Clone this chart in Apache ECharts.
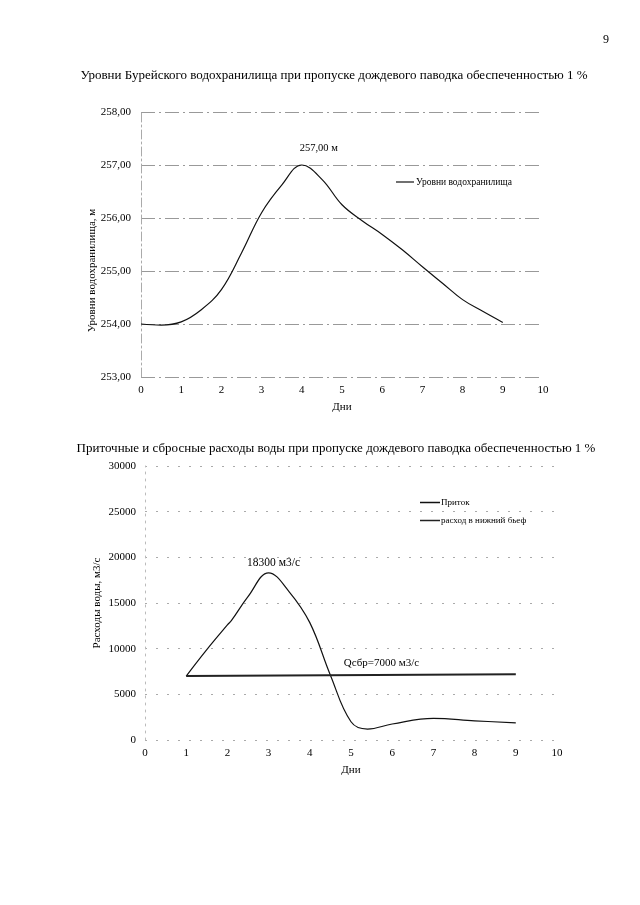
<!DOCTYPE html>
<html>
<head>
<meta charset="utf-8">
<script src="https://cdn.jsdelivr.net/npm/echarts@6/dist/echarts.min.js"></script>
<style>
html,body{margin:0;padding:0;background:#fff;}
#c{width:640px;height:905px;}
</style>
</head>
<body>
<div id="c"></div>
<script>
// Top chart: reservoir levels (day, level m)
const levelDays = [0, 0.5, 1, 1.5, 2, 2.5, 3, 3.5, 4, 4.5, 5, 5.5, 6, 6.5, 7, 7.5, 8, 8.5, 9];
const levelValues = [254.00, 253.98, 254.04, 254.27, 254.65, 255.34, 256.10, 256.62, 257.00, 256.73, 256.25, 255.95, 255.69, 255.40, 255.08, 254.77, 254.46, 254.24, 254.03];
// Bottom chart: inflow and outflow (day, m3/s)
const inflowDays = [1, 1.5, 2, 2.1, 2.5, 3, 3.5, 4, 4.5, 5, 5.4, 6, 7, 8, 9];
const inflowValues = [7000, 9900, 12600, 13100, 15700, 18300, 16230, 12850, 7100, 2000, 1200, 1750, 2370, 2100, 1880];
const outflowDays = [1, 9];
const outflowValues = [7000, 7200];
const levelTicks = [253, 254, 255, 256, 257, 258];
const flowTicks = [0, 5000, 10000, 15000, 20000, 25000, 30000];

const F = '"Liberation Serif", "Times New Roman", serif';
const pair = (xs, ys) => xs.map((x, i) => [x, ys[i]]);

const chart = echarts.init(document.getElementById('c'));
chart.setOption({
  backgroundColor: '#fff',
  animation: false,
  textStyle: {fontFamily: F, color: '#000'},
  title: [
    {text: '9', left: 598, top: 29, textStyle: {fontFamily: F, fontSize: 12, fontWeight: 'normal', color: '#000'}},
    {text: 'Уровни Бурейского водохранилища при пропуске дождевого паводка обеспеченностью 1 %', left: 329, textAlign: 'center', top: 64,
      textStyle: {fontFamily: F, fontSize: 13, fontWeight: 'normal', color: '#000'}},
    {text: 'Приточные и сбросные расходы воды при пропуске дождевого паводка обеспеченностью 1 %', left: 331, textAlign: 'center', top: 437,
      textStyle: {fontFamily: F, fontSize: 13, fontWeight: 'normal', color: '#000'}}
  ],
  legend: [
    {data: ['Уровни водохранилища'], left: 396, top: 177, padding: 0, icon: 'rect', itemWidth: 18, itemHeight: 1.2, itemGap: 4,
      textStyle: {fontFamily: F, fontSize: 9.5, color: '#000', padding: [0,0,0,-3]}},
    {data: ['Приток', 'расход в нижний бьеф'], orient: 'vertical', left: 420, top: 498, padding: 0, icon: 'rect', itemWidth: 20, itemHeight: 1.5, itemGap: 9,
      textStyle: {fontFamily: F, fontSize: 9, color: '#000', padding: [0,0,0,-4]}}
  ],
  grid: [
    {left: 141, top: 112, width: 402, height: 265},
    {left: 145, top: 466, width: 412, height: 274}
  ],
  xAxis: [
    {gridIndex: 0, type: 'value', min: 0, max: 10, interval: 1,
      name: 'Дни', nameLocation: 'middle', nameGap: 25, nameTextStyle: {fontFamily: F, fontSize: 11, color: '#000'},
      axisLine: {show: false}, axisTick: {show: false}, splitLine: {show: false},
      axisLabel: {fontFamily: F, fontSize: 11, color: '#000', margin: 8}},
    {gridIndex: 1, type: 'value', min: 0, max: 10, interval: 1,
      name: 'Дни', nameLocation: 'middle', nameGap: 25, nameTextStyle: {fontFamily: F, fontSize: 11, color: '#000'},
      axisLine: {show: false}, axisTick: {show: false}, splitLine: {show: false},
      axisLabel: {fontFamily: F, fontSize: 11, color: '#000', margin: 8}}
  ],
  yAxis: [
    {gridIndex: 0, type: 'value', min: levelTicks[0], max: levelTicks[levelTicks.length-1], interval: 1,
      name: 'Уровни водохранилища, м', nameLocation: 'middle', nameGap: 43, nameRotate: 90, nameMoveOverlap: false,
      nameTextStyle: {fontFamily: F, fontSize: 11, color: '#000', padding: [0, 52, 0, 0]},
      axisLine: {show: true, lineStyle: {color: '#aaa', width: 1, type: [9, 3, 2, 3]}},
      axisTick: {show: false},
      splitLine: {show: true, lineStyle: {color: '#999', width: 1, type: [14, 4, 2, 4]}},
      axisLabel: {fontFamily: F, fontSize: 11, color: '#000', margin: 10,
        formatter: v => v.toFixed(2).replace('.', ',')}},
    {gridIndex: 1, type: 'value', min: flowTicks[0], max: flowTicks[flowTicks.length-1], interval: 5000,
      name: 'Расходы воды, м3/с', nameLocation: 'middle', nameGap: 42, nameRotate: 90, nameMoveOverlap: false,
      nameTextStyle: {fontFamily: F, fontSize: 11, color: '#000'},
      axisLine: {show: true, lineStyle: {color: '#bbb', width: 1, type: [2, 5]}},
      axisTick: {show: false},
      splitLine: {show: true, lineStyle: {color: '#aaa', width: 1, type: [2, 9]}},
      axisLabel: {fontFamily: F, fontSize: 11, color: '#000', margin: 9,
        formatter: v => String(v)}}
  ],
  series: [
    {name: 'Уровни водохранилища', type: 'line', xAxisIndex: 0, yAxisIndex: 0,
      data: pair(levelDays, levelValues), smooth: 0.4, showSymbol: false, symbol: 'none',
      lineStyle: {color: '#111', width: 1.2}, itemStyle: {color: '#111'},
      markPoint: {symbol: 'circle', symbolSize: 0, data: [{coord: [4, 257]}],
        label: {show: true, formatter: '257,00 м', offset: [17, -17], fontFamily: F, fontSize: 10.5, color: '#000'}}},
    {name: 'Приток', type: 'line', xAxisIndex: 1, yAxisIndex: 1,
      data: pair(inflowDays, inflowValues), smooth: 0.4, showSymbol: false, symbol: 'none',
      lineStyle: {color: '#111', width: 1.2}, itemStyle: {color: '#111'},
      markPoint: {symbol: 'circle', symbolSize: 0, data: [{coord: [3, 18300]}],
        label: {show: true, formatter: '18300 м3/с', offset: [5, -10], fontFamily: F, fontSize: 11.5, color: '#000'}}},
    {name: 'расход в нижний бьеф', type: 'line', xAxisIndex: 1, yAxisIndex: 1,
      data: pair(outflowDays, outflowValues), showSymbol: false, symbol: 'none',
      lineStyle: {color: '#222', width: 2}, itemStyle: {color: '#222'},
      markPoint: {symbol: 'circle', symbolSize: 0, data: [{coord: [6.2, 7000]}],
        label: {show: true, formatter: 'Qсбр=7000 м3/с', offset: [-19, -13], fontFamily: F, fontSize: 11, color: '#000'}}}
  ]
});
</script>
</body>
</html>
